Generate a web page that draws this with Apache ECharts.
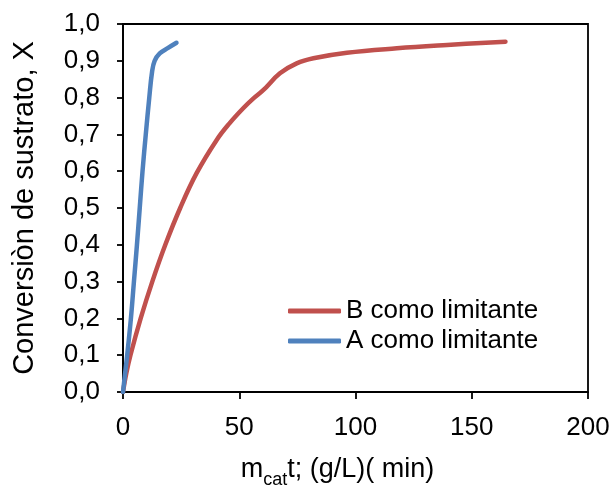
<!DOCTYPE html>
<html>
<head>
<meta charset="utf-8">
<script src="https://cdn.jsdelivr.net/npm/echarts@6/dist/echarts.min.js"></script>
<style>
  html, body { margin: 0; padding: 0; background: #fff; }
  #chart { width: 615px; height: 494px; }
</style>
</head>
<body>
<div id="chart"></div>
<script>
// Conversion X against catalyst-mass × time for the two limiting cases
const seriesNames = ['B como limitante', 'A como limitante'];

const xB = [0, 1.4, 3.2, 7.6, 12.6, 18.2, 24.6, 31.6, 40.3, 45.8, 51.7, 56.0, 60.3, 67.5, 74.7, 81.9, 96.3, 117.8, 139.4, 164.5];
const yB = [0, 0.05, 0.1, 0.2, 0.3, 0.4, 0.5, 0.594, 0.685, 0.73, 0.771, 0.797, 0.82, 0.866, 0.893, 0.907, 0.922, 0.934, 0.943, 0.952];

const xA = [0, 0.9, 1.8, 3.4, 4.7, 6.0, 7.2, 8.4, 9.8, 11.3, 12.5, 13.6, 15.8, 19.4, 23.0];
const yA = [0, 0.05, 0.1, 0.2, 0.3, 0.4, 0.5, 0.6, 0.7, 0.8, 0.87, 0.9, 0.92, 0.935, 0.949];

const xTicks = [0, 50, 100, 150, 200];
const yTicks = [0, 0.1, 0.2, 0.3, 0.4, 0.5, 0.6, 0.7, 0.8, 0.9, 1.0];

const FONT = "'Liberation Sans', Arial, sans-serif";
const pair = (xs, ys) => xs.map((x, i) => [x, ys[i]]);

const chart = echarts.init(document.getElementById('chart'), null, { renderer: 'canvas' });

chart.setOption({
  animation: false,
  backgroundColor: '#ffffff',
  grid: {
    left: 123, right: 27, top: 24, bottom: 102,
    show: true, borderColor: '#000', borderWidth: 1.8, backgroundColor: 'transparent'
  },
  legend: {
    orient: 'vertical',
    left: 283, top: 293,
    padding: 5,
    itemWidth: 53, itemHeight: 5, itemGap: 4,
    icon: 'roundRect',
    data: seriesNames,
    textStyle: { fontFamily: FONT, fontSize: 26, color: '#000' }
  },
  xAxis: {
    type: 'value',
    min: xTicks[0], max: xTicks[xTicks.length - 1], interval: xTicks[1] - xTicks[0],
    splitLine: { show: false },
    axisLine: { lineStyle: { color: '#000', width: 1.8 } },
    axisTick: { show: true, length: 7, lineStyle: { color: '#000', width: 1.8 } },
    axisLabel: { fontFamily: FONT, fontSize: 26, color: '#000', margin: 23 },
    name: '{m|m}{sub|cat}{m|t; (g/L)( min)}',
    nameLocation: 'middle',
    nameGap: 59,
    nameTextStyle: {
      fontFamily: FONT, color: '#000', padding: [0, 36, 0, 0],
      rich: {
        m: { fontFamily: FONT, fontSize: 27, color: '#000', lineHeight: 38 },
        sub: { fontFamily: FONT, fontSize: 18, color: '#000', verticalAlign: 'bottom', lineHeight: 38 }
      }
    }
  },
  yAxis: {
    type: 'value',
    min: yTicks[0], max: yTicks[yTicks.length - 1], interval: 0.1,
    splitLine: { show: false },
    axisLine: { show: true, lineStyle: { color: '#000', width: 1.8 } },
    axisTick: { show: true, length: 6, lineStyle: { color: '#000', width: 1.8 } },
    axisLabel: {
      fontFamily: FONT, fontSize: 26, color: '#000', margin: 23,
      formatter: v => v.toFixed(1).replace('.', ',')
    },
    name: 'Conversiòn de sustrato, X',
    nameLocation: 'middle',
    nameGap: 84,
    nameTextStyle: { fontFamily: FONT, fontSize: 29, color: '#000' }
  },
  series: [
    {
      name: seriesNames[0],
      type: 'line',
      data: pair(xB, yB),
      showSymbol: false, symbol: 'none',
      smooth: 0.4,
      color: '#C0504D',
      lineStyle: { color: '#C0504D', width: 4.5, cap: 'round', join: 'round' },
      z: 2
    },
    {
      name: seriesNames[1],
      type: 'line',
      data: pair(xA, yA),
      showSymbol: false, symbol: 'none',
      smooth: 0.4,
      color: '#4F81BD',
      lineStyle: { color: '#4F81BD', width: 4.5, cap: 'round', join: 'round' },
      z: 3
    }
  ]
});
</script>
</body>
</html>
